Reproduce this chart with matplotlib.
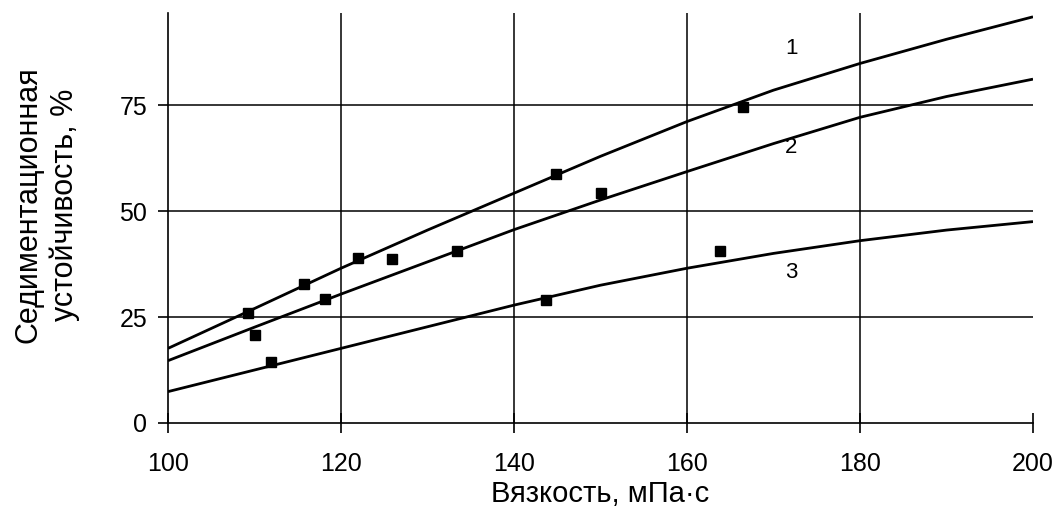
import matplotlib
matplotlib.use("Agg")
import matplotlib.pyplot as plt

plt.rcParams['font.family'] = ['Liberation Sans', 'DejaVu Sans']

# Trend curves (x = viscosity, mPa·s)
curve_x = [100, 110, 120, 130, 140, 150, 160, 170, 180, 190, 200]
curve1_y = [17.6, 27.0, 36.5, 45.5, 54.2, 62.9, 71.1, 78.5, 84.8, 90.5, 95.8]
curve2_y = [14.7, 22.6, 30.4, 38.0, 45.6, 52.6, 59.3, 65.9, 72.1, 77.0, 81.1]
curve3_y = [7.4, 12.5, 17.6, 22.7, 27.8, 32.5, 36.5, 40.0, 43.0, 45.5, 47.5]

# Experimental points
pts1_x = [109.3, 115.7, 122.0, 144.9, 166.5]
pts1_y = [26.0, 32.8, 38.8, 58.7, 74.5]
pts2_x = [110.0, 118.2, 125.9, 133.4, 150.0]
pts2_y = [20.8, 29.2, 38.7, 40.6, 54.3]
pts3_x = [111.9, 143.7, 163.8]
pts3_y = [14.3, 29.0, 40.6]

curve_labels = ["1", "2", "3"]
label_x = [172.1, 172.0, 172.0]
label_y = [88.4, 64.9, 35.6]

x_ticks = [100, 120, 140, 160, 180, 200]
y_ticks = [0, 25, 50, 75]
x_grid = [120, 140, 160, 180]
y_grid = [25, 50, 75]

xlabel = "Вязкость, мПа·с"
ylabel = "Седиментационная\nустойчивость, %"

fig = plt.figure(figsize=(10.58, 5.30), dpi=100)
ax = fig.add_axes([168/1058, 1-423/530, (1033-168)/1058, (423-13)/530])
ax.set_xlim(100, 200)
ax.set_ylim(0, 96.7)

for gx in x_grid:
    ax.axvline(gx, color='black', lw=1.1, zorder=1)
for gy in y_grid:
    ax.axhline(gy, color='black', lw=1.1, zorder=1)

for cy in (curve1_y, curve2_y, curve3_y):
    ax.plot(curve_x, cy, color='black', lw=2.0, zorder=3, solid_capstyle='butt')

for px, py in ((pts1_x, pts1_y), (pts2_x, pts2_y), (pts3_x, pts3_y)):
    ax.plot(px, py, linestyle='none', marker='s', markersize=7,
            color='black', zorder=4)

for t, lx, ly in zip(curve_labels, label_x, label_y):
    ax.text(lx, ly, t, fontsize=16, ha='center', va='center', color='black')

for s in ('top', 'right'):
    ax.spines[s].set_visible(False)
for s in ('left', 'bottom'):
    ax.spines[s].set_linewidth(1.2)

ax.set_xticks(x_ticks)
ax.set_yticks(y_ticks)
ax.tick_params(axis='x', direction='inout', length=14, width=1.2,
               labelsize=18, pad=14)
ax.tick_params(axis='y', direction='out', length=7, width=1.2,
               labelsize=18, pad=8)

fig.text(600/1058, 1-494/530, xlabel, fontsize=21, ha='center', va='center')
fig.text(47/1058, 1-205/530, ylabel, fontsize=22, ha='center', va='center',
         rotation=90, linespacing=1.25)

fig.savefig("out.png", dpi=100)
